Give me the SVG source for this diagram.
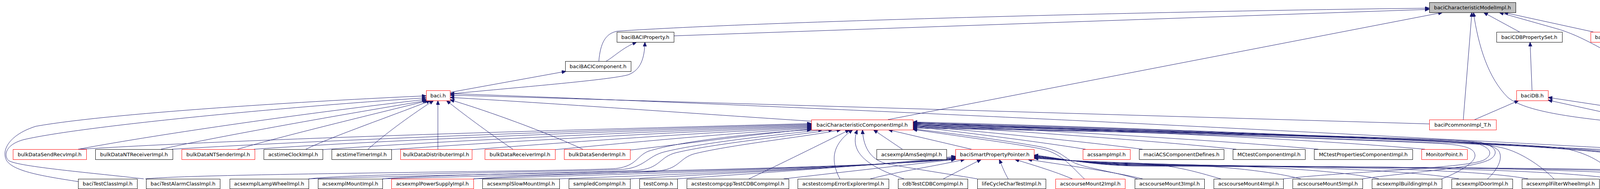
<svg xmlns="http://www.w3.org/2000/svg" width="4821" height="485" viewBox="0 0 4821 485">
<style>
.n rect{fill:#fff;stroke:#000;stroke-width:1}
.n.r rect{stroke:#f00}
.n.g rect{fill:#bfbfbf}
.n text{font-family:"DejaVu Sans",sans-serif;font-size:13px;text-anchor:middle;fill:#000}
#edges path{fill:none;stroke:#191970;stroke-width:1;marker-end:url(#a)}
</style>
<defs>
<marker id="a" markerUnits="userSpaceOnUse" markerWidth="12" markerHeight="10" refX="11" refY="4.5" orient="auto"><path d="M0,0 L11,4.5 L0,9 z" fill="#191970" stroke="#191970" stroke-width="1"/></marker>
</defs>
<rect width="4821" height="485" fill="#fff"/>
<g id="edges">
<path d="M1725,92 L3659,24"/>
<path d="M1533,157 C1537,110 1550,86 1580,80 C1950,55 3000,28 3659,21"/>
<path d="M2273,307 L3693,32"/>
<path d="M3746,307 L3768,32"/>
<path d="M4173,316 C4000,300 3900,282 3860,250 C3810,200 3785,120 3772,32"/>
<path d="M3890,82 L3798,32"/>
<path d="M4079,82 L3850,32"/>
<path d="M4402,307 L4210,190 C4100,122 4040,90 3990,75 L3838,32"/>
<path d="M1552,157 C1575,143 1595,122 1630,108"/>
<path d="M1152,241 C1350,222 1560,205 1608,192 C1640,180 1650,150 1651,108"/>
<path d="M1152,237 L1449,183"/>
<path d="M3922,232 L3917,108"/>
<path d="M3775,307 L3888,258"/>
<path d="M4191,307 L3963,257"/>
<path d="M4348,309 C4300,296 4250,291 4200,286 L3963,250"/>
<path d="M200,466 C110,452 35,440 17,412 C2,385 25,345 92,324 C300,287 880,255 1091,246"/>
<path d="M368,459 C250,445 45,428 22,412 C8,398 15,370 62,358 C220,322 760,272 1091,251"/>
<path d="M200,383 C420,342 800,288 1091,255"/>
<path d="M412,383 C530,356 850,298 1093,258"/>
<path d="M608,383 C720,350 960,292 1097,258"/>
<path d="M783,383 C850,350 1010,295 1102,258"/>
<path d="M942,383 C990,340 1060,290 1110,258"/>
<path d="M1121,383 L1121,258"/>
<path d="M1313,383 C1250,340 1180,288 1143,258"/>
<path d="M1492,383 C1400,340 1250,285 1152,256"/>
<path d="M2077,311 C1800,293 1400,264 1152,250"/>
<path d="M3659,318 L1152,244"/>
<path d="M4235,386 C3900,368 2500,290 1152,240"/>
<path d="M205,383 C700,352 1600,330 2077,317"/>
<path d="M440,383 C900,355 1600,332 2077,319"/>
<path d="M650,383 C1000,358 1650,334 2077,321"/>
<path d="M826,384 C1150,360 1700,336 2077,323"/>
<path d="M1002,384 C1300,362 1750,338 2077,325"/>
<path d="M1208,384 C1450,365 1800,340 2077,327"/>
<path d="M1421,384 C1600,367 1850,343 2077,329"/>
<path d="M1613,385 C1750,370 1900,348 2077,331"/>
<path d="M372,459 C500,445 1500,440 1580,432 C1630,425 1630,400 1660,388 C1750,360 1950,340 2077,333"/>
<path d="M790,459 C900,445 1550,440 1600,434 C1650,428 1660,400 1700,390 C1800,365 2000,345 2106,333"/>
<path d="M979,459 C1100,447 1600,442 1640,436 C1690,430 1690,402 1730,392 C1830,368 2030,348 2132,333"/>
<path d="M1212,459 C1350,448 1650,444 1690,438 C1740,432 1740,404 1780,394 C1880,370 2070,350 2153,333"/>
<path d="M1917,459 C2000,420 2100,370 2175,333"/>
<path d="M2150,459 C2125,410 2130,370 2183,333"/>
<path d="M2314,459 C2230,430 2170,395 2195,333"/>
<path d="M2502,459 C2450,450 2330,432 2270,420 C2235,412 2210,385 2208,333"/>
<path d="M2310,383 L2236,333"/>
<path d="M2487,383 L2274,333"/>
<path d="M790,459 C1200,445 2200,435 2446,408"/>
<path d="M979,459 C1400,446 2200,434 2446,407"/>
<path d="M1212,459 C1600,446 2220,432 2446,406"/>
<path d="M1432,459 C1800,445 2250,428 2446,405"/>
<path d="M1613,459 C1900,442 2300,424 2446,403"/>
<path d="M1734,459 C2000,440 2300,420 2446,401"/>
<path d="M2006,459 L2446,409"/>
<path d="M2228,459 C2300,440 2400,425 2470,409"/>
<path d="M2415,459 L2512,409"/>
<path d="M2581,459 C2570,440 2565,425 2558,409"/>
<path d="M2745,459 C2700,440 2650,425 2598,409"/>
<path d="M2925,459 C2850,440 2700,420 2631,409"/>
<path d="M3125,459 C3060,440 3000,422 2900,418 C2780,414 2700,410 2647,406"/>
<path d="M3330,459 C3250,438 3100,422 2900,419 C2780,416 2700,410 2647,405"/>
<path d="M3530,459 C3420,436 3200,424 2900,420 C2780,417 2700,409 2647,404"/>
<path d="M3735,459 C3600,435 3300,426 2900,421 C2780,418 2700,408 2647,403"/>
<path d="M3912,459 C3780,434 3400,427 2900,422 C2780,419 2700,407 2647,402"/>
<path d="M4135,459 C3950,432 3500,428 2900,423 C2780,420 2700,406 2647,401"/>
<path d="M4320,459 C4100,430 3600,429 2900,424 C2780,421 2700,405 2647,400"/>
<path d="M4462,459 C4250,430 3700,430 2900,425 C2780,422 2700,404 2647,399"/>
<path d="M4652,459 C4400,430 3800,431 2900,426 C2780,423 2700,403 2647,398"/>
<path d="M2776,459 C2745,430 2720,395 2670,383 C2600,368 2420,345 2337,332"/>
<path d="M2912,459 C2850,440 2770,430 2745,415 C2720,400 2710,385 2660,376 C2560,358 2420,340 2337,331"/>
<path d="M3285,459 C3450,440 3760,432 3800,410 C3825,395 3815,378 3780,368 C3650,352 2700,335 2337,329"/>
<path d="M3488,459 C3600,442 3790,432 3820,405 C3835,392 3830,375 3790,365 C3660,350 2700,333 2337,327"/>
<path d="M3691,459 C3740,440 3778,415 3776,398 C3774,380 3750,372 3680,368 C3400,355 2700,332 2337,325"/>
<path d="M3808,459 C3840,430 3848,400 3835,385 C3815,368 3770,362 3700,360 C3400,348 2700,330 2337,323"/>
<path d="M3978,459 C3950,430 3900,395 3856,382 C3820,372 3780,368 3700,364 C3400,350 2700,329 2337,321"/>
<path d="M4140,459 C4120,430 4080,395 4000,380 C3850,362 2800,330 2337,319"/>
<path d="M4310,459 C4260,435 4220,410 4150,392 C3950,365 2800,328 2337,317"/>
<path d="M4452,459 C4380,440 4250,418 4170,398 C3980,365 2800,326 2337,315"/>
<path d="M4640,459 C4500,438 4290,420 4190,402 C4000,366 2800,324 2337,313"/>
<path d="M2779,383 C2650,362 2450,338 2337,324"/>
<path d="M2925,383 C2750,360 2500,337 2337,322"/>
<path d="M3165,383 C2900,356 2550,334 2337,320"/>
<path d="M3375,383 C3050,354 2600,332 2337,318"/>
<path d="M3648,383 C3300,352 2700,330 2337,316"/>
<path d="M4235,390 C3900,372 2800,334 2337,314"/>
<path d="M4321,383 L4270,333"/>
<path d="M4353,383 L4403,333"/>
<path d="M4391,459 C4430,432 4462,410 4455,392 C4445,368 4400,350 4330,333"/>
<path d="M4523,459 C4505,420 4480,380 4440,362 C4400,348 4360,340 4326,333"/>
<path d="M4698,459 L4328,334"/>
<path d="M4716,459 C4670,400 4600,360 4495,334"/>
</g>
<g id="n0" class="n g"><rect x="3659.5" y="6.5" width="221" height="26"/><text x="3769.5" y="24">baciCharacteristicModelImpl.h</text></g>
<g id="n1" class="n"><rect x="1579.5" y="82.5" width="146" height="26"/><text x="1652" y="100">baciBACIProperty.h</text></g>
<g id="n2" class="n"><rect x="3831.5" y="82.5" width="168" height="26"/><text x="3915" y="100">baciCDBPropertySet.h</text></g>
<g id="n3" class="n r"><rect x="4072.5" y="82.5" width="145" height="26"/><text x="4144.5" y="100">baciPropertyImpl.h</text></g>
<g id="n4" class="n"><rect x="1447.5" y="157.5" width="168" height="26"/><text x="1531" y="175">baciBACIComponent.h</text></g>
<g id="n5" class="n r"><rect x="1091.5" y="232.5" width="61" height="26"/><text x="1121.5" y="250">baci.h</text></g>
<g id="n6" class="n r"><rect x="3882.5" y="232.5" width="81" height="26"/><text x="3922.5" y="250">baciDB.h</text></g>
<g id="n7" class="n r"><rect x="2077.5" y="307.5" width="260" height="26"/><text x="2207" y="325">baciCharacteristicComponentImpl.h</text></g>
<g id="n8" class="n r"><rect x="3659.5" y="307.5" width="171" height="26"/><text x="3744.5" y="325">baciPcommonImpl_T.h</text></g>
<g id="n9" class="n"><rect x="4173.5" y="307.5" width="151" height="26"/><text x="4248.5" y="325">enumpropROImpl.h</text></g>
<g id="n10" class="n"><rect x="4348.5" y="307.5" width="153" height="26"/><text x="4424.5" y="325">enumpropRWImpl.h</text></g>
<g id="n11" class="n r"><rect x="33.5" y="383.5" width="188" height="26"/><text x="127" y="401">bulkDataSendRecvImpl.h</text></g>
<g id="n12" class="n"><rect x="244.5" y="383.5" width="198" height="26"/><text x="343" y="401">bulkDataNTReceiverImpl.h</text></g>
<g id="n13" class="n r"><rect x="465.5" y="383.5" width="187" height="26"/><text x="558.5" y="401">bulkDataNTSenderImpl.h</text></g>
<g id="n14" class="n"><rect x="675.5" y="383.5" width="151" height="26"/><text x="750.5" y="401">acstimeClockImpl.h</text></g>
<g id="n15" class="n"><rect x="849.5" y="383.5" width="153" height="26"/><text x="925.5" y="401">acstimeTimerImpl.h</text></g>
<g id="n16" class="n r"><rect x="1025.5" y="383.5" width="183" height="26"/><text x="1116.5" y="401">bulkDataDistributerImpl.h</text></g>
<g id="n17" class="n r"><rect x="1241.5" y="383.5" width="180" height="26"/><text x="1331" y="401">bulkDataReceiverImpl.h</text></g>
<g id="n18" class="n r"><rect x="1444.5" y="383.5" width="169" height="26"/><text x="1528.5" y="401">bulkDataSenderImpl.h</text></g>
<g id="n19" class="n"><rect x="2244.5" y="383.5" width="179" height="26"/><text x="2333.5" y="401">acsexmplAmsSeqImpl.h</text></g>
<g id="n20" class="n r"><rect x="2446.5" y="383.5" width="201" height="26"/><text x="2546.5" y="401">baciSmartPropertyPointer.h</text></g>
<g id="n21" class="n r"><rect x="2772.5" y="383.5" width="121" height="26"/><text x="2832.5" y="401">acssampImpl.h</text></g>
<g id="n22" class="n"><rect x="2916.5" y="383.5" width="217" height="26"/><text x="3024.5" y="401">maciACSComponentDefines.h</text></g>
<g id="n23" class="n"><rect x="3156.5" y="383.5" width="185" height="26"/><text x="3248.5" y="401">MCtestComponentImpl.h</text></g>
<g id="n24" class="n"><rect x="3364.5" y="383.5" width="252" height="26"/><text x="3490" y="401">MCtestPropertiesComponentImpl.h</text></g>
<g id="n25" class="n r"><rect x="3639.5" y="383.5" width="117" height="26"/><text x="3697.5" y="401">MonitorPoint.h</text></g>
<g id="n26" class="n"><rect x="4235.5" y="383.5" width="204" height="26"/><text x="4337" y="401">enumpropTestDeviceImpl.h</text></g>
<g id="n27" class="n"><rect x="200.5" y="459.5" width="151" height="25"/><text x="275.5" y="476">baciTestClassImpl.h</text></g>
<g id="n28" class="n"><rect x="374.5" y="459.5" width="189" height="25"/><text x="468.5" y="476">baciTestAlarmClassImpl.h</text></g>
<g id="n29" class="n"><rect x="588.5" y="459.5" width="202" height="25"/><text x="689" y="476">acsexmplLampWheelImpl.h</text></g>
<g id="n30" class="n"><rect x="814.5" y="459.5" width="165" height="25"/><text x="896.5" y="476">acsexmplMountImpl.h</text></g>
<g id="n31" class="n r"><rect x="1002.5" y="459.5" width="210" height="25"/><text x="1107" y="476">acsexmplPowerSupplyImpl.h</text></g>
<g id="n32" class="n"><rect x="1235.5" y="459.5" width="197" height="25"/><text x="1333.5" y="476">acsexmplSlowMountImpl.h</text></g>
<g id="n33" class="n"><rect x="1456.5" y="459.5" width="157" height="25"/><text x="1534.5" y="476">sampledCompImpl.h</text></g>
<g id="n34" class="n"><rect x="1637.5" y="459.5" width="97" height="25"/><text x="1685.5" y="476">testComp.h</text></g>
<g id="n35" class="n"><rect x="1758.5" y="459.5" width="261" height="25"/><text x="1888.5" y="476">acstestcompcppTestCDBCompImpl.h</text></g>
<g id="n36" class="n"><rect x="2042.5" y="459.5" width="233" height="25"/><text x="2158.5" y="476">acstestcompErrorExplorerImpl.h</text></g>
<g id="n37" class="n"><rect x="2299.5" y="459.5" width="178" height="25"/><text x="2388" y="476">cdbTestCDBCompImpl.h</text></g>
<g id="n38" class="n"><rect x="2502.5" y="459.5" width="175" height="25"/><text x="2589.5" y="476">lifeCycleCharTestImpl.h</text></g>
<g id="n39" class="n r"><rect x="2702.5" y="459.5" width="178" height="25"/><text x="2791" y="476">acscourseMount2Impl.h</text></g>
<g id="n40" class="n"><rect x="2905.5" y="459.5" width="178" height="25"/><text x="2994" y="476">acscourseMount3Impl.h</text></g>
<g id="n41" class="n"><rect x="3107.5" y="459.5" width="178" height="25"/><text x="3196" y="476">acscourseMount4Impl.h</text></g>
<g id="n42" class="n"><rect x="3309.5" y="459.5" width="179" height="25"/><text x="3398.5" y="476">acscourseMount5Impl.h</text></g>
<g id="n43" class="n"><rect x="3512.5" y="459.5" width="179" height="25"/><text x="3601.5" y="476">acsexmplBuildingImpl.h</text></g>
<g id="n44" class="n"><rect x="3716.5" y="459.5" width="156" height="25"/><text x="3794" y="476">acsexmplDoorImpl.h</text></g>
<g id="n45" class="n"><rect x="3896.5" y="459.5" width="198" height="25"/><text x="3995" y="476">acsexmplFilterWheelImpl.h</text></g>
<g id="n46" class="n"><rect x="4117.5" y="459.5" width="164" height="25"/><text x="4199" y="476">acsexmplLampImpl.h</text></g>
<g id="n47" class="n"><rect x="4304.5" y="459.5" width="116" height="25"/><text x="4362" y="476">baciTestImpl.h</text></g>
<g id="n48" class="n"><rect x="4445.5" y="459.5" width="166" height="25"/><text x="4528" y="476">acsexmplFridgeImpl.h</text></g>
<g id="n49" class="n"><rect x="4635.5" y="459.5" width="185" height="25"/><text x="4727.5" y="476">acsexmplCalendarImpl.h</text></g>
</svg>
